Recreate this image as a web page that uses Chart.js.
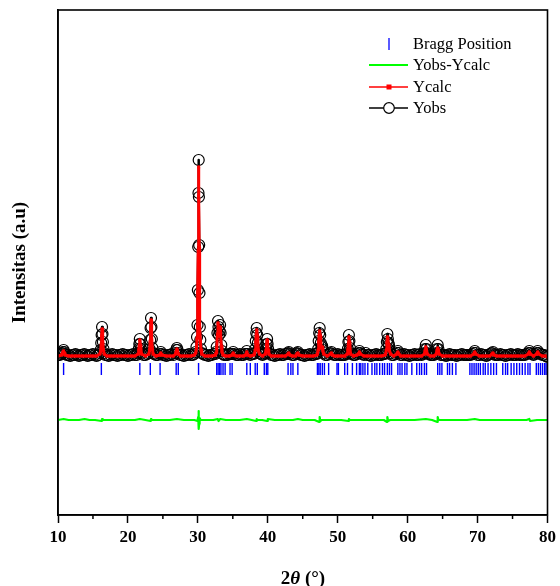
<!DOCTYPE html>
<html>
<head>
<meta charset="utf-8">
<script src="https://cdn.jsdelivr.net/npm/chart.js@4.4.1/dist/chart.umd.min.js"></script>
<style>
html,body{margin:0;padding:0;background:#fff;}
#wrap{position:relative;width:560px;height:586px;overflow:hidden;}
#c{position:absolute;left:0;top:0;}
.lg{position:absolute;font-family:"Liberation Serif","Times New Roman",serif;font-size:16.5px;color:#000;line-height:20px;white-space:nowrap;}
#xt{position:absolute;left:203px;width:200px;top:566px;text-align:center;font-family:"Liberation Serif","Times New Roman",serif;font-weight:bold;font-size:19px;line-height:24px;color:#000;}
#lgsym{position:absolute;left:360px;top:30px;}
</style>
</head>
<body>
<div id="wrap">
<canvas id="c" width="560" height="586"></canvas>
<svg id="lgsym" width="60" height="90" viewBox="360 30 60 90">
  <line x1="389" y1="38" x2="389" y2="50" stroke="#0000ff" stroke-width="1.3"/>
  <line x1="369" y1="65" x2="408" y2="65" stroke="#00ff00" stroke-width="2"/>
  <line x1="369" y1="87" x2="408" y2="87" stroke="#ff0000" stroke-width="1.3"/>
  <rect x="386.5" y="84.5" width="5" height="5" fill="#ff0000"/>
  <line x1="369" y1="108" x2="408" y2="108" stroke="#000" stroke-width="1.6"/>
  <circle cx="389" cy="108" r="5.3" fill="#fff" stroke="#000" stroke-width="1.2"/>
</svg>
<div class="lg" style="left:413px;top:34px;">Bragg Position</div>
<div class="lg" style="left:413px;top:55px;">Yobs-Ycalc</div>
<div class="lg" style="left:413px;top:77px;">Ycalc</div>
<div class="lg" style="left:413px;top:98px;">Yobs</div>
<div id="xt">2<i>θ</i> (°)</div>
</div>
<script>
// ---- data (2θ in degrees, intensity in arbitrary units) ----
const xTickValues = [10, 20, 30, 40, 50, 60, 70, 80];
const minorTickValues = [15, 25, 35, 45, 55, 65, 75];

const braggPositions = [
  10.8, 16.2, 21.7, 23.2, 24.6, 26.9, 27.2, 30.1, 32.7, 32.9, 33.1, 33.3, 33.6, 33.9,
  34.6, 34.9, 37.0, 37.5, 38.2, 38.5, 39.5, 39.8, 40.0, 42.9, 43.3, 43.6, 44.3,
  47.1, 47.3, 47.5, 47.8, 48.1, 48.7, 49.9, 50.1, 51.0, 51.4, 52.1, 52.7, 53.1, 53.3,
  53.6, 53.9, 54.3, 54.9, 55.3, 55.6, 56.0, 56.4, 56.7, 57.1, 57.4, 57.7, 58.6,
  58.9, 59.2, 59.6, 59.9, 60.6, 61.3, 61.7, 62.0, 62.4, 62.7, 64.3, 64.6, 64.9,
  65.7, 66.0, 66.4, 66.9, 68.9, 69.2, 69.5, 69.8, 70.1, 70.4, 70.8, 71.1, 71.5,
  71.9, 72.3, 72.7, 73.6, 74.0, 74.3, 74.8, 75.2, 75.6, 76.0, 76.4, 76.8, 77.2,
  77.5, 78.4, 78.7, 79.0, 79.3, 79.6, 79.8
];
const braggLevel = 146;

const yObs = [
  [10,160],[10.25,160],[10.5,161],
  [10.6,162],[10.7,163],[10.8,165],[10.9,163],[11.0,161],
  [11.25,160],[11.5,160],[11.75,159],[12,160],[12.25,160],[12.5,161],[12.75,160],[13,159],[13.25,160],[13.5,160],[13.75,161],[14,160],[14.25,159],[14.5,160],[14.75,160],[15,161],[15.25,160],[15.5,159],[15.75,160],
  [16.0,162],[16.1,165],[16.18,172],[16.24,180],[16.3,188],[16.36,181],[16.42,173],[16.5,166],[16.6,162],
  [16.75,160],[17,160],[17.25,159],[17.5,160],[17.75,161],[18,160],[18.25,160],[18.5,159],[18.75,160],[19,160],[19.25,161],[19.5,160],[19.75,160],[20,159],[20.25,160],[20.5,160],[20.75,161],[21,160],[21.25,160],
  [21.45,162],[21.55,166],[21.63,171],[21.7,176],[21.77,171],[21.85,166],[21.95,162],
  [22.25,160],[22.5,160],[22.75,161],
  [23.0,162],[23.1,166],[23.18,175],[23.24,187],[23.3,197],[23.36,188],[23.42,176],[23.5,167],[23.6,162],
  [23.75,161],[24,160],[24.25,160],
  [24.55,161],[24.7,163],[24.85,161],
  [25,160],[25.25,160],[25.5,159],[25.75,160],[26,160],[26.25,161],[26.5,160],
  [26.8,162],[26.9,165],[27.0,167],[27.1,165],[27.2,162],
  [27.5,160],[27.75,160],[28,159],[28.25,160],[28.5,160],[28.75,161],[29,160],[29.25,160],[29.5,161],
  [29.7,163],[29.8,168],[29.88,178],[29.95,190],[30.0,225],[30.05,268],[30.09,322],[30.12,355],[30.15,318],[30.19,270],[30.23,222],[30.28,188],[30.35,175],[30.45,166],[30.55,162],
  [30.75,161],[31,160],[31.25,160],[31.5,159],[31.75,160],[32,160],[32.25,161],[32.5,161],
  [32.6,163],[32.7,168],[32.8,182],[32.88,194],[32.95,188],[33.02,180],[33.1,184],[33.18,190],[33.25,182],[33.35,170],[33.45,164],[33.6,161],
  [33.75,160],[34,160],[34.25,160],[34.5,161],[34.75,161],
  [34.9,161],[35.05,163],[35.2,161],
  [35.5,160],[35.75,160],[36,161],[36.25,160],[36.5,160],[36.75,161],
  [36.85,161],[37.0,164],[37.15,161],
  [37.5,160],[37.75,161],[38,161],
  [38.1,162],[38.2,166],[38.28,174],[38.35,182],[38.42,187],[38.5,180],[38.58,172],[38.68,165],[38.8,162],
  [39,161],[39.25,160],[39.5,161],
  [39.65,162],[39.75,166],[39.83,171],[39.9,176],[39.97,171],[40.05,166],[40.15,162],
  [40.5,160],[40.75,160],[41,159],[41.25,160],[41.5,160],[41.75,161],[42,160],[42.25,160],[42.5,161],[42.75,161],
  [42.9,162],[43.0,163],[43.15,161],
  [43.5,160],[43.75,160],[44,161],
  [44.15,162],[44.3,163],[44.45,161],
  [44.75,160],[45,160],[45.25,159],[45.5,160],[45.75,160],[46,161],[46.25,160],[46.5,160],[46.75,161],[47,161],
  [47.1,162],[47.2,166],[47.28,174],[47.35,182],[47.42,187],[47.5,180],[47.58,172],[47.68,168],[47.78,169],[47.88,165],[48.0,162],
  [48.25,160],[48.5,160],[48.75,161],
  [48.95,162],[49.1,163],[49.25,161],
  [49.5,160],[49.75,160],[50,161],[50.25,160],[50.5,160],[50.75,160],[51,160],[51.25,161],
  [51.35,162],[51.45,166],[51.53,173],[51.6,180],[51.67,174],[51.75,167],[51.85,162],
  [52,161],[52.25,160],[52.5,160],[52.75,161],
  [52.95,162],[53.1,164],[53.25,162],
  [53.5,161],[53.75,160],[54,162],[54.25,160],[54.5,160],[54.75,159],[55,160],[55.25,160],[55.5,161],[55.75,160],[56,160],[56.25,160],[56.5,161],[56.75,161],
  [56.85,162],[56.95,166],[57.03,173],[57.1,181],[57.17,176],[57.25,172],[57.33,170],[57.42,165],[57.55,162],
  [57.75,160],[58,160],[58.25,161],
  [58.45,162],[58.6,164],[58.75,162],
  [59,160],[59.25,160],[59.5,161],[59.75,160],[60,160],[60.25,159],[60.5,160],[60.75,160],[61,161],[61.25,160],[61.5,160],[61.75,161],[62,160],[62.25,161],
  [62.4,162],[62.5,166],[62.6,170],[62.7,166],[62.8,162],
  [63,161],[63.25,160],[63.5,160],[63.75,160],[64,161],
  [64.1,162],[64.2,166],[64.3,170],[64.4,166],[64.5,162],
  [64.75,160],[65,160],[65.25,160],[65.5,159],[65.75,160],[66,161],[66.25,160],[66.5,160],[66.75,160],[67,159],[67.25,160],[67.5,160],[67.75,161],[68,160],[68.25,160],[68.5,160],[68.75,160],[69,160],[69.25,161],
  [69.45,162],[69.6,164],[69.75,162],
  [70,160],[70.25,160],[70.5,161],[70.75,160],[71,160],[71.25,159],[71.5,160],[71.75,161],
  [72.05,162],[72.2,163],[72.35,161],
  [72.5,160],[72.75,160],[73,160],[73.25,161],[73.5,160],[73.75,160],[74,159],[74.25,160],[74.5,160],[74.75,161],[75,160],[75.25,160],[75.5,160],[75.75,161],[76,160],[76.25,160],[76.5,160],[76.75,160],[77,161],
  [77.25,162],[77.4,164],[77.55,162],
  [77.75,161],[78,160],[78.25,161],
  [78.45,162],[78.6,164],[78.75,162],
  [79,161],[79.25,160],[79.5,160],[79.75,159],[80,158]
];

const yCalc = [
  [10,159],[10.5,160],
  [10.6,161],[10.7,163],[10.8,164],[10.9,162],[11.0,160],
  [11.5,159],[12,159],[12.5,159],[13,159],[13.5,159],[14,159],[14.5,159],[15,159],[15.5,159],
  [16.0,161],[16.1,164],[16.18,171],[16.24,179],[16.3,186],[16.36,180],[16.42,172],[16.5,165],[16.6,161],
  [17,159],[17.5,159],[18,159],[18.5,159],[19,159],[19.5,159],[20,159],[20.5,159],[21,159],
  [21.45,161],[21.55,165],[21.63,170],[21.7,175],[21.77,170],[21.85,165],[21.95,161],
  [22.5,159],
  [23.0,161],[23.1,165],[23.18,174],[23.24,185],[23.3,195],[23.36,186],[23.42,175],[23.5,166],[23.6,161],
  [24,159],
  [24.55,160],[24.7,162],[24.85,160],
  [25.5,159],[26,159],[26.5,159],
  [26.8,161],[26.9,164],[27.0,166],[27.1,164],[27.2,161],
  [27.5,159],[28,159],[28.5,159],[29,159],[29.5,160],
  [29.7,162],[29.8,167],[29.88,177],[29.95,189],[30.0,222],[30.05,265],[30.09,318],[30.12,348],[30.15,315],[30.19,268],[30.23,220],[30.28,187],[30.35,174],[30.45,165],[30.55,161],
  [31,159],[31.5,159],[32,159],[32.5,160],
  [32.6,162],[32.7,167],[32.8,181],[32.88,192],[32.95,187],[33.02,179],[33.1,183],[33.18,188],[33.25,181],[33.35,169],[33.45,163],[33.6,160],
  [34,159],[34.5,159],
  [34.9,160],[35.05,162],[35.2,160],
  [35.5,159],[36,159],[36.5,159],
  [36.85,160],[37.0,163],[37.15,160],
  [37.5,159],[38,160],
  [38.1,161],[38.2,165],[38.28,173],[38.35,181],[38.42,185],[38.5,179],[38.58,171],[38.68,164],[38.8,161],
  [39.25,159],
  [39.65,161],[39.75,165],[39.83,170],[39.9,175],[39.97,170],[40.05,165],[40.15,161],
  [40.5,159],[41,159],[41.5,159],[42,159],[42.5,159],
  [42.9,161],[43.0,162],[43.15,160],
  [43.5,159],[44,159],
  [44.15,161],[44.3,162],[44.45,160],
  [45,159],[45.5,159],[46,159],[46.5,159],[47,160],
  [47.1,161],[47.2,165],[47.28,173],[47.35,180],[47.42,184],[47.5,179],[47.58,171],[47.68,167],[47.78,168],[47.88,164],[48.0,161],
  [48.5,159],
  [48.95,161],[49.1,162],[49.25,160],
  [49.5,159],[50,159],[50.5,159],[51,159],
  [51.35,161],[51.45,165],[51.53,172],[51.6,178],[51.67,173],[51.75,166],[51.85,161],
  [52.25,159],[52.75,160],
  [52.95,161],[53.1,163],[53.25,161],
  [53.75,159],[54.25,159],[54.75,159],[55.25,159],[55.75,159],[56.25,159],[56.75,160],
  [56.85,161],[56.95,165],[57.03,172],[57.1,178],[57.17,175],[57.25,171],[57.33,169],[57.42,164],[57.55,161],
  [58,159],
  [58.45,161],[58.6,163],[58.75,161],
  [59,159],[59.5,159],[60,159],[60.5,159],[61,159],[61.5,159],[62,159],
  [62.4,161],[62.5,165],[62.6,168],[62.7,165],[62.8,161],
  [63.25,159],[63.75,159],
  [64.1,161],[64.2,165],[64.3,167],[64.4,165],[64.5,161],
  [65,159],[65.5,159],[66,159],[66.5,159],[67,159],[67.5,159],[68,159],[68.5,159],[69,159],
  [69.45,161],[69.6,163],[69.75,161],
  [70.25,159],[70.75,159],[71.25,159],[71.75,159],
  [72.05,161],[72.2,162],[72.35,160],
  [72.75,159],[73.25,159],[73.75,159],[74.25,159],[74.75,159],[75.25,159],[75.75,159],[76.25,159],[76.75,159],
  [77.25,161],[77.4,163],[77.55,161],
  [78,159],
  [78.45,161],[78.6,163],[78.75,161],
  [79.25,159],[79.75,159],[80,158]
];

const yDiff = [
  [10,95],[10.8,96],[11.5,95],[12.3,95],[13,95],[13.8,96],[14.5,95],[15.3,95],[16.25,94],[16.3,96],[16.4,95],
  [17,95],[18,95],[19,95],[20,95],[21,95],[21.7,96],[22.5,95],[23.25,94],[23.3,96],[23.35,95],
  [24,95],[25,95],[26,95],[27,96],[28,95],[29,95],[29.5,95],[29.95,94],[30.05,98],[30.09,104],[30.12,100],
  [30.15,86],[30.19,91],[30.25,97],[30.4,95],[31,95],[31.5,95],[32.2,95],[32.85,96],[32.95,94],[33.2,96],
  [34,95],[35,95],[36,95],[37,96],[37.7,95],[38.35,94],[38.42,96],[38.5,95],[39.2,95],[39.9,94],[40,96],
  [41,95],[42,95],[43,95],[43.6,95],[44.3,96],[45,95],[46,95],[46.7,95],[47.35,93],[47.42,98],[47.5,94],
  [47.7,95],[48.5,95],[49.5,95],[50.5,95],[51.55,94],[51.6,96],[51.7,95],[52.4,95],[53,95],[54,95],
  [55,95],[56,95],[56.6,95],[57.05,93],[57.1,98],[57.2,94],[57.5,95],[58,95],[59,95],[60,95],[61,95],
  [62.6,96],[63.5,95],[64.25,93],[64.3,98],[64.4,95],[65.5,95],[66.3,95],[67,95],[68.5,95],[69.6,96],
  [70.3,95],[71,95],[72.5,95],[74,95],[75.5,95],[76.3,95],[77,95],[77.4,96],[77.5,94],[78.5,95],
  [79.5,95],[80,95]
];

// ---- chart ----
const pts = a => a.map(p => ({ x: p[0], y: p[1] }));
const serif = '"Liberation Serif", "Times New Roman", serif';

const framePlugin = {
  id: 'frame',
  afterDraw(chart) {
    const { ctx, chartArea: a, scales: { x } } = chart;
    ctx.save();
    ctx.strokeStyle = '#000';
    ctx.lineWidth = 1.6;
    ctx.strokeRect(a.left, a.top, a.right - a.left, a.bottom - a.top);
    ctx.lineWidth = 1.5;
    minorTickValues.forEach(v => {
      const px = x.getPixelForValue(v);
      ctx.beginPath();
      ctx.moveTo(px, a.bottom);
      ctx.lineTo(px, a.bottom + 4);
      ctx.stroke();
    });
    ctx.restore();
  }
};

new Chart(document.getElementById('c'), {
  type: 'scatter',
  data: {
    datasets: [
      {
        label: 'Bragg Position',
        data: braggPositions.map(p => ({ x: p, y: braggLevel })),
        showLine: false,
        pointStyle: 'line',
        rotation: 90,
        pointRadius: 6,
        borderColor: '#0000ff',
        backgroundColor: '#0000ff',
        borderWidth: 1.4,
        order: 0
      },
      {
        label: 'Yobs-Ycalc',
        data: pts(yDiff),
        showLine: true,
        borderColor: '#00ff00',
        borderWidth: 2.2,
        borderJoinStyle: 'round',
        pointRadius: 0,
        order: 1
      },
      {
        label: 'Ycalc',
        data: pts(yCalc),
        showLine: true,
        borderColor: '#ff0000',
        borderWidth: 3,
        borderJoinStyle: 'round',
        borderCapStyle: 'round',
        pointStyle: 'rect',
        pointRadius: 2,
        pointBackgroundColor: '#ff0000',
        pointBorderWidth: 0,
        order: 2
      },
      {
        label: 'Yobs',
        data: pts(yObs),
        showLine: true,
        borderColor: '#000',
        borderWidth: 2.5,
        borderJoinStyle: 'round',
        pointStyle: 'circle',
        pointRadius: 5.5,
        pointBorderColor: '#000',
        pointBorderWidth: 1.2,
        pointBackgroundColor: 'rgba(255,255,255,0)',
        order: 3
      }
    ]
  },
  options: {
    responsive: false,
    animation: false,
    events: [],
    layout: { padding: { left: 0, right: 12, top: 10, bottom: 0 } },
    plugins: { legend: { display: false }, tooltip: { enabled: false } },
    scales: {
      x: {
        type: 'linear',
        min: 10,
        max: 80,
        afterBuildTicks: s => { s.ticks = xTickValues.map(v => ({ value: v })); },
        afterFit: s => { s.height = 71; },
        grid: { display: true, drawOnChartArea: false, drawTicks: true, tickLength: 8, tickColor: '#000', tickWidth: 1.5 },
        border: { display: true, color: '#000', width: 1.6 },
        ticks: { color: '#000', padding: 4, maxRotation: 0, font: { family: serif, size: 17, weight: 'bold' } }
      },
      y: {
        type: 'linear',
        min: 0,
        max: 505,
        afterFit: s => { s.width = 58; },
        grid: { display: false },
        border: { display: true, color: '#000', width: 1.6 },
        ticks: { display: false },
        title: {
          display: true,
          text: 'Intensitas (a.u)',
          color: '#000',
          padding: { top: 9, bottom: 0 },
          font: { family: serif, size: 19, weight: 'bold' }
        }
      }
    }
  },
  plugins: [framePlugin]
});
</script>
</body>
</html>
